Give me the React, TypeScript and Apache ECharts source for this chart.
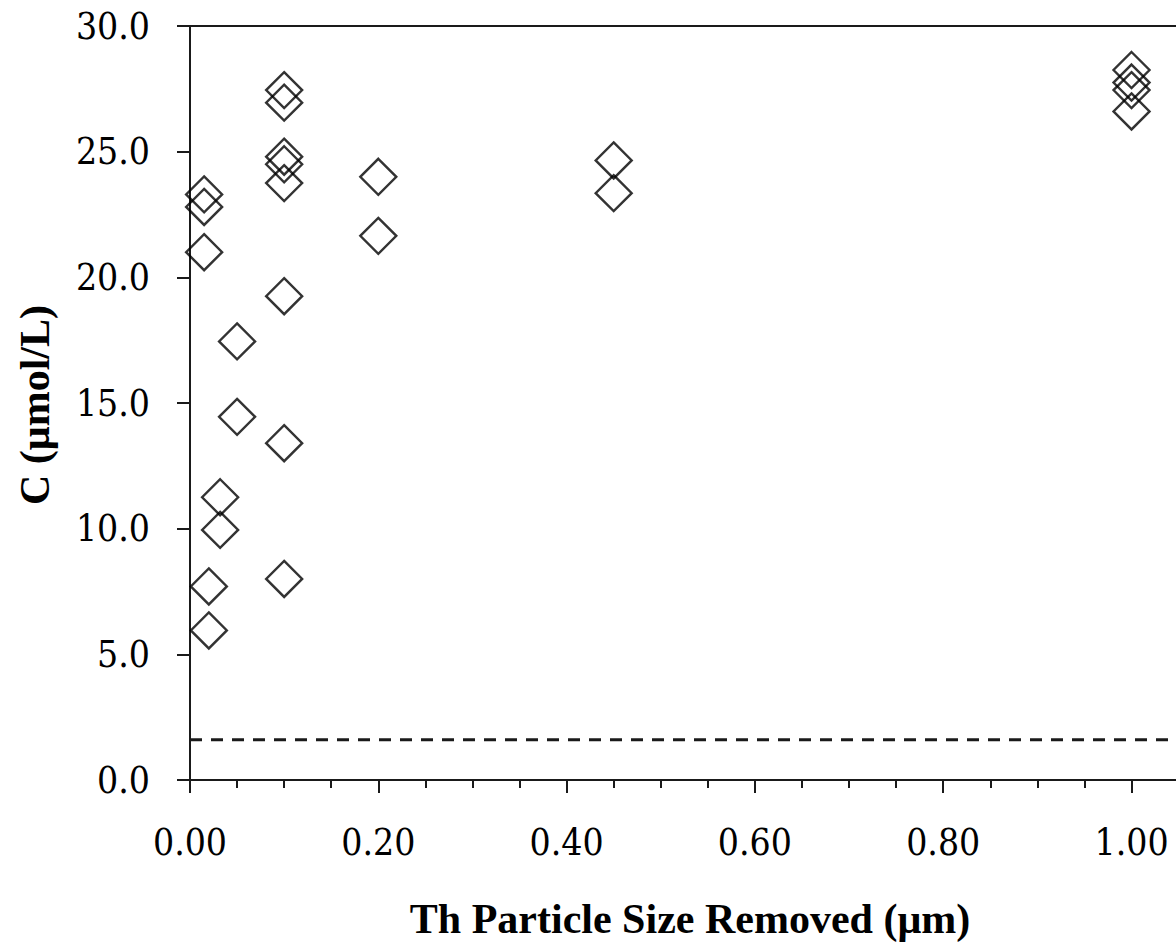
import React, { useEffect, useRef } from "react";
import * as echarts from "echarts";

// Particle size removed (µm) and concentration C (µmol/L)
const sizeX: number[] = [
  0.015, 0.015, 0.015,
  0.02, 0.02,
  0.032, 0.032,
  0.05, 0.05,
  0.1, 0.1, 0.1, 0.1, 0.1, 0.1, 0.1, 0.1,
  0.2, 0.2,
  0.45, 0.45,
  1.0, 1.0, 1.0, 1.0,
];
const concY: number[] = [
  23.3, 22.8, 21.0,
  7.7, 5.95,
  11.25, 9.95,
  17.45, 14.45,
  27.45, 26.95, 24.8, 24.5, 23.75, 19.25, 13.4, 8.0,
  24.0, 21.65,
  24.65, 23.35,
  28.25, 27.75, 27.45, 26.6,
];
const detectionLimit = 1.6;
const xRange: number[] = [0, 1.05];
const yRange: number[] = [0, 30];
const xTitle = "Th Particle Size Removed (μm)";
const yTitle = "C (μmol/L)";

const tickFont = "'DejaVu Serif Condensed', 'DejaVu Serif', serif";
const titleFont = "'Liberation Serif', 'Times New Roman', serif";

export default function App() {
  const ref = useRef<HTMLDivElement>(null);
  useEffect(() => {
    if (!ref.current) return;
    const chart = echarts.init(ref.current, null, { renderer: "svg" });
    const pts = sizeX.map((x, i) => [x, concY[i]]);
    const axisColor = "#1a1a1a";
    chart.setOption({
      animation: false,
      backgroundColor: "#fff",
      grid: {
        left: 190,
        top: 26,
        width: 988.6,
        height: 754,
        outerBoundsMode: "none",
        containLabel: false,
        show: true,
        borderColor: axisColor,
        borderWidth: 2,
        backgroundColor: "transparent",
      },
      xAxis: [
        {
          type: "value",
          min: xRange[0],
          max: xRange[1],
          interval: 0.2,
          position: "bottom",
          axisLine: { show: true, onZero: false, lineStyle: { color: axisColor, width: 2 } },
          axisTick: { show: true, inside: false, length: 13, lineStyle: { color: axisColor, width: 2 } },
          axisLabel: {
            show: true,
            margin: 44,
            color: "#000",
            fontFamily: tickFont,
            fontSize: 37,
            formatter: (v: number) => {
              const k = Math.round(v / 0.2);
              return Math.abs(v - k * 0.2) < 1e-6 ? v.toFixed(2) : "";
            },
          },
          splitLine: { show: false },
        },
        {
          type: "value",
          min: xRange[0],
          max: xRange[1],
          interval: 0.05,
          position: "bottom",
          offset: 0,
          axisLine: { show: false },
          axisTick: { show: true, inside: false, length: 8, lineStyle: { color: axisColor, width: 2 } },
          axisLabel: { show: false },
          splitLine: { show: false },
        },
      ],
      yAxis: {
        type: "value",
        min: yRange[0],
        max: yRange[1],
        interval: 5,
        axisLine: { show: true, onZero: false, lineStyle: { color: axisColor, width: 2 } },
        axisTick: { show: true, inside: false, length: 13, lineStyle: { color: axisColor, width: 2 } },
        axisLabel: {
          margin: 40,
          color: "#000",
          fontFamily: tickFont,
          fontSize: 37,
          formatter: (v: number) => v.toFixed(1),
        },
        splitLine: { show: false },
      },
      graphic: [
        {
          type: "text",
          x: 690,
          y: 919,
          style: {
            text: xTitle,
            font: `bold 42px ${titleFont}`,
            fill: "#000",
            textAlign: "center",
            textVerticalAlign: "middle",
          },
        },
        {
          type: "text",
          x: 35,
          y: 405,
          rotation: Math.PI / 2,
          style: {
            text: yTitle,
            font: `bold 42px ${titleFont}`,
            fill: "#000",
            textAlign: "center",
            textVerticalAlign: "middle",
          },
        },
      ],
      series: [
        {
          type: "line",
          data: [
            [xRange[0], detectionLimit],
            [xRange[1], detectionLimit],
          ],
          symbol: "none",
          silent: true,
          lineStyle: { color: axisColor, width: 3, type: [12, 9] },
        },
        {
          type: "scatter",
          data: pts,
          symbol: "diamond",
          symbolSize: 36,
          itemStyle: { color: "rgba(0,0,0,0)", borderColor: "#000", borderWidth: 2.4 },
        },
      ],
    });
    return () => chart.dispose();
  }, []);
  return (
    <div
      ref={ref}
      style={{ position: "absolute", left: 0, top: 0, width: 1176, height: 943, overflow: "hidden" }}
    />
  );
}
